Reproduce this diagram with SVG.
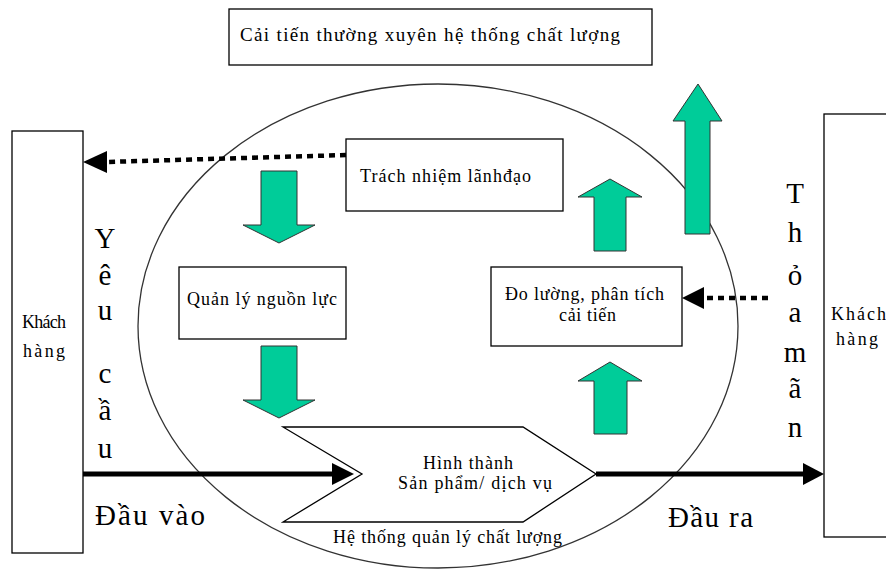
<svg xmlns="http://www.w3.org/2000/svg" width="886" height="569" viewBox="0 0 886 569" font-family="Liberation Serif, DejaVu Serif, serif">
<style>
.box{fill:#fff;stroke:#000;stroke-width:1.3}
.t{fill:#000;font-family:'Liberation Serif','Times New Roman',serif}
.s{font-size:18px}
.b{font-size:29px}
.g{fill:#00CC99;stroke:#333;stroke-width:1}
.dot{stroke:#000;stroke-width:4.5;stroke-dasharray:6 5;fill:none}
.thick{stroke:#000;stroke-width:5;fill:none}
</style>
<rect width="886" height="569" fill="#fff"/>
<ellipse cx="438" cy="326" rx="300" ry="242" fill="none" stroke="#333" stroke-width="1.3"/>
<g id="improve">
<rect class="box" x="229" y="9" width="423" height="56"/>
<text class="t" x="240" y="41" font-size="19" textLength="380">Cải tiến thường xuyên hệ thống chất lượng</text>
</g>
<g id="customer-left">
<rect class="box" x="12" y="131" width="71" height="422"/>
<text class="t s" x="22" y="328" textLength="44">Khách</text>
<text class="t s" x="23" y="357" textLength="42">hàng</text>
</g>
<g id="customer-right">
<rect class="box" x="824" y="114" width="70" height="423"/>
<text class="t s" x="831" y="320" textLength="55">Khách</text>
<text class="t s" x="836" y="345" textLength="42">hàng</text>
</g>
<g id="responsibility">
<rect class="box" x="346" y="139" width="217" height="72"/>
<text class="t s" x="360" y="182" textLength="171">Trách nhiệm lãnhđạo</text>
</g>
<g id="resources">
<rect class="box" x="179" y="267" width="167" height="72"/>
<text class="t s" x="187" y="305" textLength="150">Quản lý nguồn lực</text>
</g>
<g id="measure">
<rect class="box" x="491" y="267" width="191" height="79"/>
<text class="t s" x="505" y="300" textLength="159">Đo lường, phân tích</text>
<text class="t s" x="559" y="321" textLength="57">cải tiến</text>
</g>
<g id="product">
<polygon class="box" points="283,427 523,427 596,474 523,522 283,522 362,474"/>
<text class="t s" x="423" y="469" textLength="90">Hình thành</text>
<text class="t s" x="398" y="489" textLength="154">Sản phẩm/ dịch vụ</text>
</g>
<g id="qms-label">
<text class="t s" x="333" y="543" textLength="229">Hệ thống quản lý chất lượng</text>
</g>
<g id="connectors">
<polygon class="g" points="261,171 297,171 297,225 315,225 279,243 243,225 261,225"/>
<polygon class="g" points="261,346 297,346 297,400 315,400 279,418 243,400 261,400"/>
<polygon class="g" points="594,251 626,251 626,197 642,197 610,179 578,197 594,197"/>
<polygon class="g" points="594,434 627,434 627,381 642,381 610,362 578,381 594,381"/>
<polygon class="g" points="685,234 710,234 710,121 722,121 698,84 673,121 685,121"/>
<line class="dot" x1="346" y1="155" x2="106" y2="162"/>
<polygon points="83,162 107,151 107,173" fill="#000"/>
<line class="dot" x1="768" y1="298" x2="703" y2="298"/>
<polygon points="682,298 704,287 704,309" fill="#000"/>
<line class="thick" x1="83" y1="474" x2="335" y2="474"/>
<polygon points="354,474 332,463 332,485" fill="#000"/>
<line class="thick" x1="596" y1="474" x2="805" y2="474"/>
<polygon points="824,474 803,463 803,485" fill="#000"/>
</g>
<g id="labels">
<text class="t b" x="105" y="248" text-anchor="middle">Y</text>
<text class="t b" x="105" y="285" text-anchor="middle">ê</text>
<text class="t b" x="105" y="320" text-anchor="middle">u</text>
<text class="t b" x="105" y="383" text-anchor="middle">c</text>
<text class="t b" x="105" y="420" text-anchor="middle">ầ</text>
<text class="t b" x="105" y="458" text-anchor="middle">u</text>
<text class="t b" x="795" y="203" text-anchor="middle">T</text>
<text class="t b" x="795" y="242" text-anchor="middle">h</text>
<text class="t b" x="795" y="285" text-anchor="middle">ỏ</text>
<text class="t b" x="795" y="322" text-anchor="middle">a</text>
<text class="t b" x="795" y="362" text-anchor="middle">m</text>
<text class="t b" x="795" y="398" text-anchor="middle">ã</text>
<text class="t b" x="795" y="437" text-anchor="middle">n</text>
<text class="t b" x="95" y="525" textLength="110">Đầu vào</text>
<text class="t b" x="668" y="527" textLength="85">Đầu ra</text>
</g>
</svg>
